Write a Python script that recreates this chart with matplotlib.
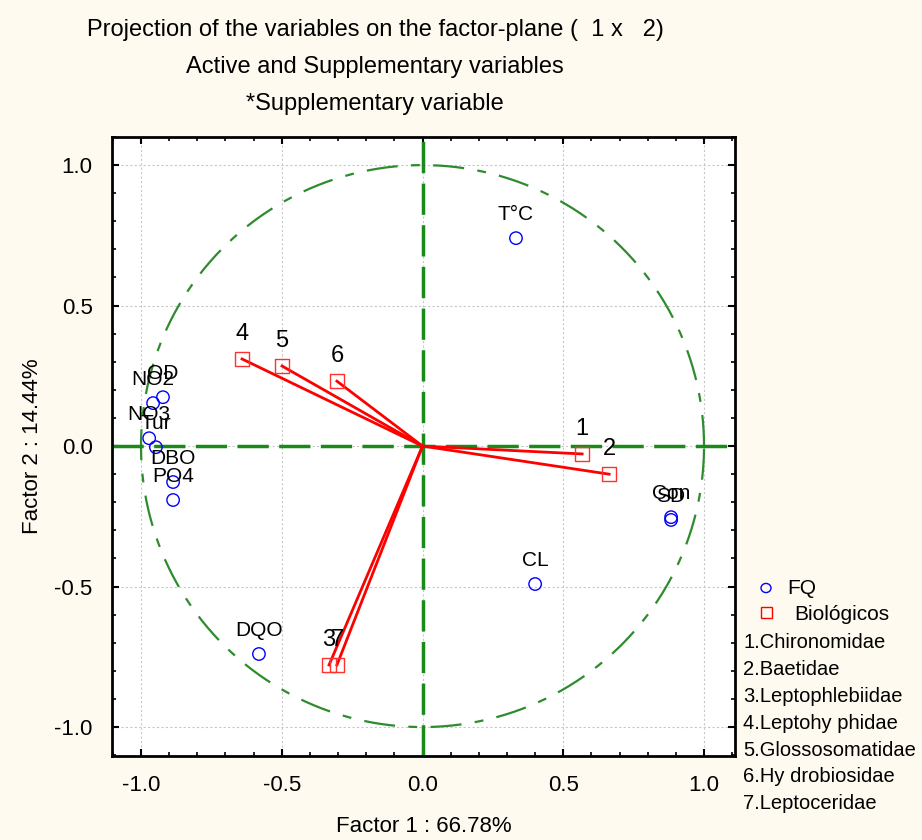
import numpy as np
import matplotlib
matplotlib.use('Agg')
import matplotlib.pyplot as plt
from matplotlib.ticker import MultipleLocator, FormatStrFormatter

plt.rcParams['font.family'] = ['Liberation Sans', 'DejaVu Sans']

# *** Data *** #
fq_names = ['T°C', 'OD', 'NO2', 'NO3', 'Tur', 'DBO', 'PO4', 'DQO', 'CL', 'Con', 'SD']
fq_x = [0.332, -0.922, -0.957, -0.971, -0.947, -0.886, -0.886, -0.581, 0.400, 0.883, 0.883]
fq_y = [0.740, 0.174, 0.153, 0.028, -0.004, -0.128, -0.192, -0.740, -0.491, -0.253, -0.263]

bio_names = ['1', '2', '3', '4', '5', '6', '7']
bio_x = [0.567, 0.663, -0.332, -0.641, -0.499, -0.304, -0.304]
bio_y = [-0.028, -0.100, -0.779, 0.310, 0.285, 0.231, -0.779]

bio_legend = ['1.Chironomidae', '2.Baetidae', '3.Leptophlebiidae', '4.Leptohy phidae',
              '5.Glossosomatidae', '6.Hy drobiosidae', '7.Leptoceridae']

title_lines = ['Projection of the variables on the factor-plane (  1 x   2)',
               'Active and Supplementary variables',
               '*Supplementary variable']
xlabel = 'Factor 1 : 66.78%'
ylabel = 'Factor 2 : 14.44%'

bg = '#fffaf0'

fig = plt.figure(figsize=(9.22, 8.4), dpi=100, facecolor=bg)
ax = fig.add_axes([112/922, 1-756/840, (735-112)/922, (756-137)/840])
ax.set_facecolor('white')

# Unit circle + axis lines
t = np.linspace(0, 2*np.pi, 400)
ax.plot(np.cos(t), np.sin(t), color='#2e8b2e', lw=1.6, dashes=(14, 6, 4, 6), zorder=2)
ax.axhline(0, color='#1a8a1a', lw=2.5, dashes=(9, 3), zorder=2)
ax.axvline(0, color='#1a8a1a', lw=2.5, dashes=(9, 3), zorder=2)

# Vectors for biological variables
for bx, by in zip(bio_x, bio_y):
    ax.plot([0, bx], [0, by], color='red', lw=2, zorder=3)

ax.scatter(fq_x, fq_y, s=80, facecolors='none', edgecolors='blue', lw=1, zorder=4)
ax.scatter(bio_x, bio_y, s=100, marker='s', facecolors='none', edgecolors='#ff3030', lw=1, zorder=4)

for name, x, y in zip(fq_names, fq_x, fq_y):
    ax.text(x, y + 0.05, name, fontsize=15, ha='center', va='bottom', zorder=5)
for name, x, y in zip(bio_names, bio_x, bio_y):
    ax.text(x, y + 0.05, name, fontsize=17, ha='center', va='bottom', zorder=5)

ax.set_xlim(-1.103, 1.11)
ax.set_ylim(-1.103, 1.10)
ax.xaxis.set_major_locator(MultipleLocator(0.5))
ax.yaxis.set_major_locator(MultipleLocator(0.5))
ax.xaxis.set_minor_locator(MultipleLocator(0.1))
ax.yaxis.set_minor_locator(MultipleLocator(0.1))
ax.tick_params(which='both', direction='in', top=True, right=True, labelsize=16, pad=14)
ax.tick_params(which='major', length=5, width=1.5)
ax.tick_params(which='minor', length=3, width=1.2)
ax.xaxis.set_major_formatter(FormatStrFormatter('%.1f'))
ax.yaxis.set_major_formatter(FormatStrFormatter('%.1f'))
for sp in ax.spines.values():
    sp.set_linewidth(2)
ax.grid(True, which='major', color='#c8c8c8', ls=(0, (2, 2)), lw=0.8, zorder=1)
ax.set_axisbelow(True)

ax.set_xlabel(xlabel, fontsize=16, labelpad=14)
ax.set_ylabel(ylabel, fontsize=16, labelpad=8)

for i, line in enumerate(title_lines):
    fig.text(375/922, 1 - (30 + 37*i)/840, line, fontsize=17, ha='center', va='center')

# Legend outside the axes
fig.patches.append(plt.Circle((766/922, 1-588/840), 5/922, transform=fig.transFigure,
                              fill=False, ec='blue', lw=1))
fig.patches.append(plt.Rectangle((761/922, 1-618/840), 11/922, 11/840, transform=fig.transFigure,
                                 fill=False, ec='red', lw=1))
fig.text(787/922, 1-589/840, 'FQ', fontsize=15, ha='left', va='center')
fig.text(794/922, 1-614/840, 'Biológicos', fontsize=15, ha='left', va='center')
for i, line in enumerate(bio_legend):
    fig.text(743/922, 1-(643 + 26.8*i)/840, line, fontsize=14.5, ha='left', va='center')

fig.savefig('out.png', dpi=100, facecolor=bg)
